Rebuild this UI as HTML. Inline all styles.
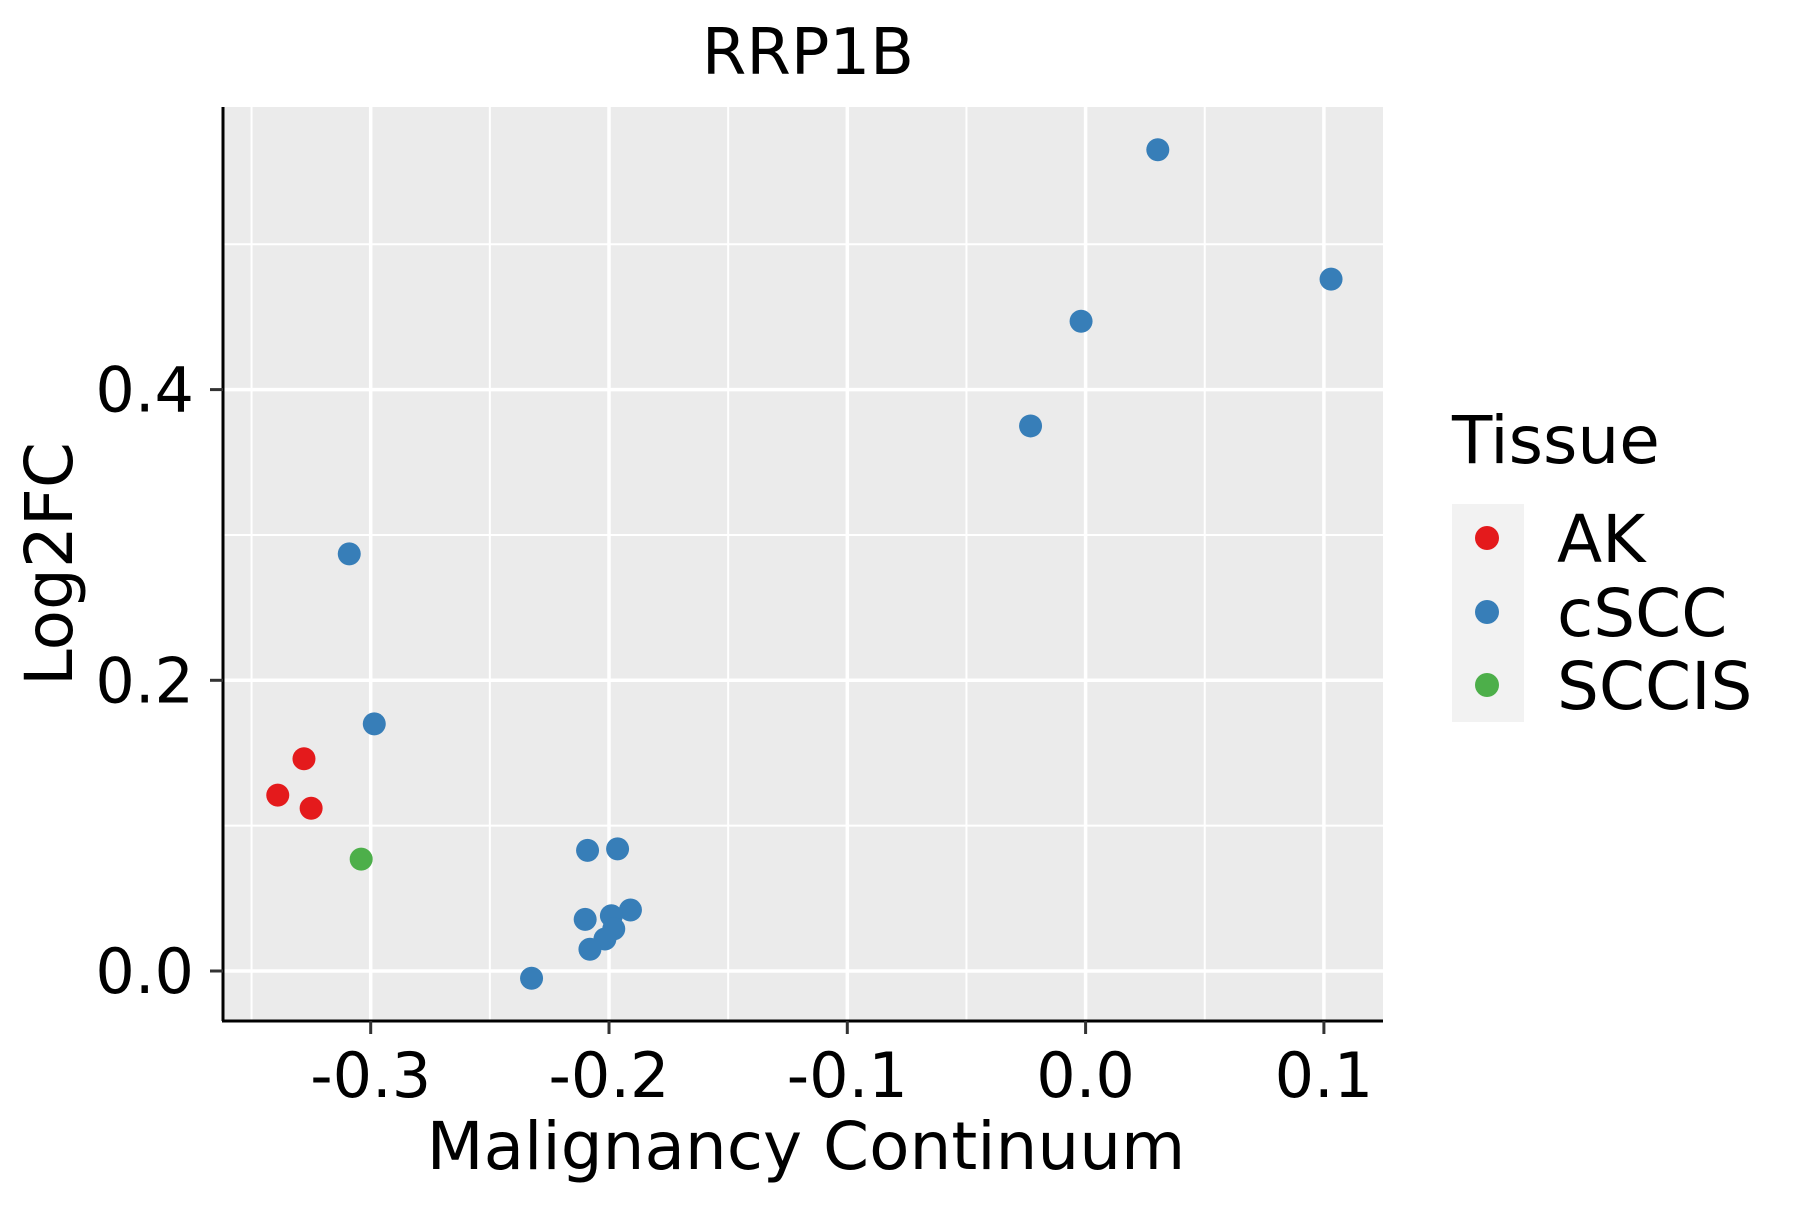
<!DOCTYPE html>
<html><head><meta charset="utf-8"><style>
body{margin:0;background:#fff}
svg text{font-family:"DejaVu Sans","Liberation Sans",sans-serif}
</style></head><body>
<svg id="chart" width="1800" height="1200" viewBox="0 0 1800 1200" xmlns="http://www.w3.org/2000/svg">
<rect x="0" y="0" width="1800" height="1200" fill="#fff"/>
<rect x="223" y="107" width="1160" height="913" fill="#ebebeb"/>
<g id="grid"></g>
<g id="points"></g>
<line x1="223" y1="107" x2="223" y2="1021" stroke="#000" stroke-width="3"/>
<line x1="222" y1="1021" x2="1383" y2="1021" stroke="#000" stroke-width="3"/>
<g id="axes"></g>
<text x="808" y="74" font-size="64" text-anchor="middle">RRP1B</text>
<text x="806" y="1169" font-size="66" text-anchor="middle">Malignancy Continuum</text>
<text transform="translate(72,564) rotate(-90)" font-size="66" text-anchor="middle">Log2FC</text>
<g>
<text x="1452" y="463" font-size="66">Tissue</text>
<rect x="1452" y="504" width="72" height="218" fill="#f2f2f2"/>
<g><circle cx="1487" cy="538" r="12" fill="#E41A1C"/><text x="1557" y="562" font-size="66">AK</text></g>
<g><circle cx="1487" cy="612" r="12" fill="#377EB8"/><text x="1557" y="636" font-size="66">cSCC</text></g>
<g><circle cx="1487" cy="685" r="12" fill="#4DAF4A"/><text x="1557" y="709" font-size="66">SCCIS</text></g>
</g>
</svg>
<script>
const xTicks=[-0.3,-0.2,-0.1,0.0,0.1];
const xTickLabels=["-0.3","-0.2","-0.1","0.0","0.1"];
const xMinor=[-0.35,-0.25,-0.15,-0.05,0.05];
const yTicks=[0.0,0.2,0.4];
const yTickLabels=["0.0","0.2","0.4"];
const yMinor=[0.1,0.3,0.5];
const groups=["AK","AK","AK","SCCIS","cSCC","cSCC","cSCC","cSCC","cSCC","cSCC","cSCC","cSCC","cSCC","cSCC","cSCC","cSCC","cSCC","cSCC","cSCC"];
const xVals=[-0.328,-0.339,-0.325,-0.304,-0.309,-0.2985,-0.2325,-0.209,-0.1964,-0.21,-0.191,-0.199,-0.198,-0.2017,-0.208,-0.0231,-0.0019,0.0303,0.103];
const yVals=[0.146,0.121,0.112,0.077,0.287,0.170,-0.005,0.083,0.084,0.0355,0.042,0.038,0.029,0.022,0.015,0.375,0.447,0.565,0.476];
const colors={AK:"#E41A1C",cSCC:"#377EB8",SCCIS:"#4DAF4A"};
const NS="http://www.w3.org/2000/svg";
const L=223,R=1383,T=107,B=1020;
function xs(v){return 1085.6+2383*v;}
function ys(v){return 971-1453.5*v;}
function mk(tag,attrs,parent){const e=document.createElementNS(NS,tag);for(const k in attrs)e.setAttribute(k,attrs[k]);parent.appendChild(e);return e;}
const grid=document.getElementById('grid'),axes=document.getElementById('axes'),pts=document.getElementById('points');
xMinor.forEach(v=>{const l=mk('line',{x1:xs(v),x2:xs(v),y1:T,y2:B,stroke:'#fff','stroke-width':2},grid);

});
yMinor.forEach(v=>{const l=mk('line',{x1:L,x2:R,y1:ys(v),y2:ys(v),stroke:'#fff','stroke-width':2},grid);

});
xTicks.forEach((v,i)=>{const l=mk('line',{x1:xs(v),x2:xs(v),y1:T,y2:B,stroke:'#fff','stroke-width':3.5},grid);


const t=mk('line',{x1:xs(v),x2:xs(v),y1:1021,y2:1034,stroke:'#333','stroke-width':3},axes);


const tx=mk('text',{x:xs(v),y:1097,'font-size':62,'text-anchor':'middle'},axes);tx.textContent=xTickLabels[i];

});
yTicks.forEach((v,i)=>{const l=mk('line',{x1:L,x2:R,y1:ys(v),y2:ys(v),stroke:'#fff','stroke-width':3.5},grid);


const t=mk('line',{x1:210,x2:223,y1:ys(v),y2:ys(v),stroke:'#333','stroke-width':3},axes);


const tx=mk('text',{x:194,y:ys(v)+22,'font-size':62,'text-anchor':'end'},axes);tx.textContent=yTickLabels[i];

});
xVals.forEach((v,i)=>{const c=mk('circle',{cx:xs(v),cy:ys(yVals[i]),r:11.5,fill:colors[groups[i]]},pts);

});
</script>
</body></html>
